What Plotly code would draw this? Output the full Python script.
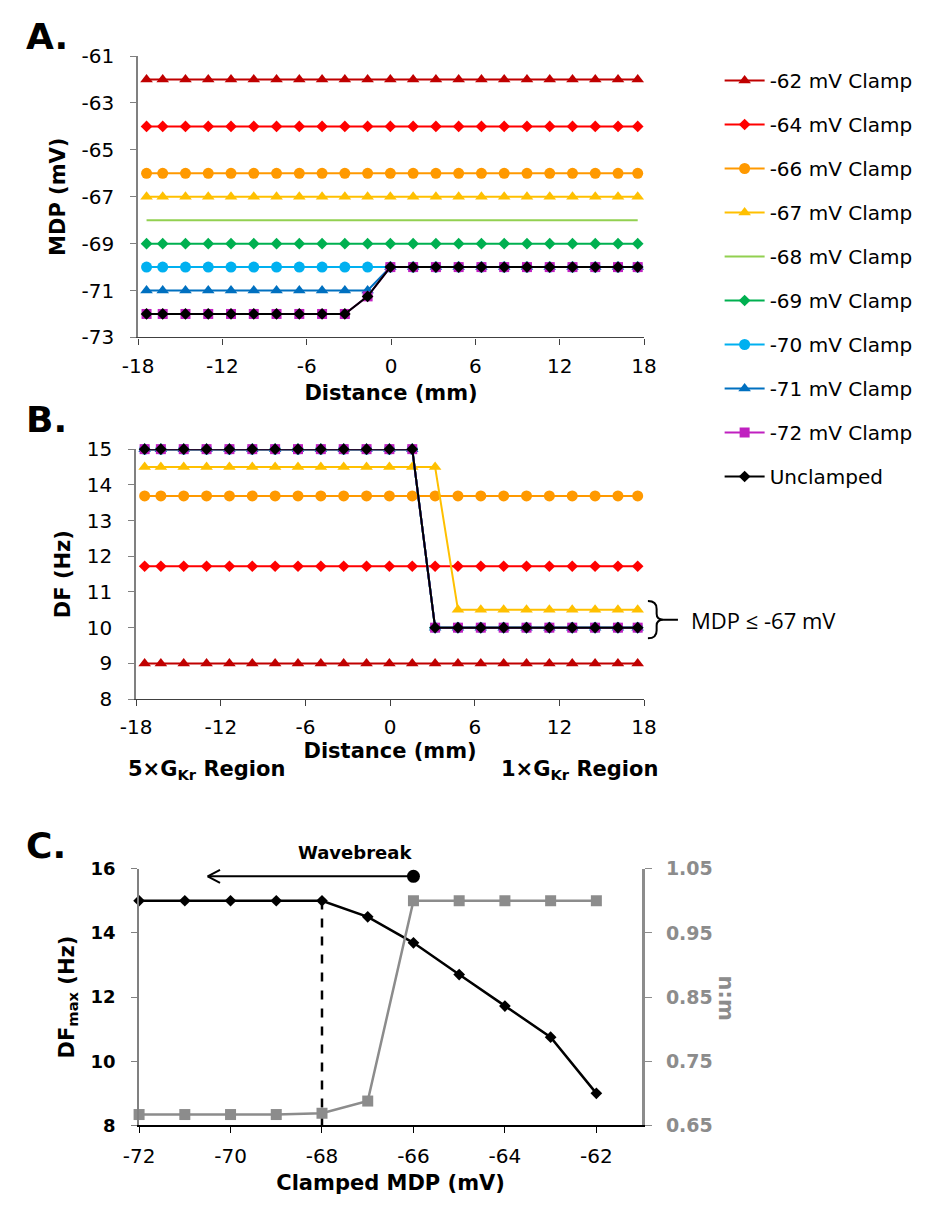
import plotly.graph_objects as go

W, H = 941, 1209

# ---------------- data ----------------
distance_mm = [-17.4, -16.25, -14.63, -13.01, -11.39, -9.77, -8.15, -6.53, -4.91, -3.29, -1.67, -0.05,
               1.57, 3.19, 4.81, 6.43, 8.05, 9.67, 11.29, 12.91, 14.53, 16.15, 17.55]

series_names = ["-62 mV Clamp", "-64 mV Clamp", "-66 mV Clamp", "-67 mV Clamp", "-68 mV Clamp",
                "-69 mV Clamp", "-70 mV Clamp", "-71 mV Clamp", "-72 mV Clamp", "Unclamped"]

# Panel A: MDP (mV) along the cable
mdp_m62 = [-62, -62, -62, -62, -62, -62, -62, -62, -62, -62, -62, -62,
           -62, -62, -62, -62, -62, -62, -62, -62, -62, -62, -62]
mdp_m64 = [-64, -64, -64, -64, -64, -64, -64, -64, -64, -64, -64, -64,
           -64, -64, -64, -64, -64, -64, -64, -64, -64, -64, -64]
mdp_m66 = [-66, -66, -66, -66, -66, -66, -66, -66, -66, -66, -66, -66,
           -66, -66, -66, -66, -66, -66, -66, -66, -66, -66, -66]
mdp_m67 = [-67, -67, -67, -67, -67, -67, -67, -67, -67, -67, -67, -67,
           -67, -67, -67, -67, -67, -67, -67, -67, -67, -67, -67]
mdp_m68 = [-68, -68, -68, -68, -68, -68, -68, -68, -68, -68, -68, -68,
           -68, -68, -68, -68, -68, -68, -68, -68, -68, -68, -68]
mdp_m69 = [-69, -69, -69, -69, -69, -69, -69, -69, -69, -69, -69, -69,
           -69, -69, -69, -69, -69, -69, -69, -69, -69, -69, -69]
mdp_m70 = [-70, -70, -70, -70, -70, -70, -70, -70, -70, -70, -70, -70,
           -70, -70, -70, -70, -70, -70, -70, -70, -70, -70, -70]
mdp_m71 = [-71, -71, -71, -71, -71, -71, -71, -71, -71, -71, -71, -70,
           -70, -70, -70, -70, -70, -70, -70, -70, -70, -70, -70]
mdp_m72 = [-72, -72, -72, -72, -72, -72, -72, -72, -72, -72, -71.25, -70,
           -70, -70, -70, -70, -70, -70, -70, -70, -70, -70, -70]
mdp_unclamped = [-72, -72, -72, -72, -72, -72, -72, -72, -72, -72, -71.25, -70,
                 -70, -70, -70, -70, -70, -70, -70, -70, -70, -70, -70]

# Panel B: DF (Hz) along the cable
df_m62 = [9.0, 9.0, 9.0, 9.0, 9.0, 9.0, 9.0, 9.0, 9.0, 9.0, 9.0, 9.0,
          9.0, 9.0, 9.0, 9.0, 9.0, 9.0, 9.0, 9.0, 9.0, 9.0, 9.0]
df_m64 = [11.72, 11.72, 11.72, 11.72, 11.72, 11.72, 11.72, 11.72, 11.72, 11.72, 11.72, 11.72,
          11.72, 11.72, 11.72, 11.72, 11.72, 11.72, 11.72, 11.72, 11.72, 11.72, 11.72]
df_m66 = [13.69, 13.69, 13.69, 13.69, 13.69, 13.69, 13.69, 13.69, 13.69, 13.69, 13.69, 13.69,
          13.69, 13.69, 13.69, 13.69, 13.69, 13.69, 13.69, 13.69, 13.69, 13.69, 13.69]
df_m67 = [14.5, 14.5, 14.5, 14.5, 14.5, 14.5, 14.5, 14.5, 14.5, 14.5, 14.5, 14.5,
          14.5, 14.5, 10.5, 10.5, 10.5, 10.5, 10.5, 10.5, 10.5, 10.5, 10.5]
df_m68 = [15, 15, 15, 15, 15, 15, 15, 15, 15, 15, 15, 15,
          15, 10, 10, 10, 10, 10, 10, 10, 10, 10, 10]
df_m69 = [15, 15, 15, 15, 15, 15, 15, 15, 15, 15, 15, 15,
          15, 10, 10, 10, 10, 10, 10, 10, 10, 10, 10]
df_m70 = [15, 15, 15, 15, 15, 15, 15, 15, 15, 15, 15, 15,
          15, 10, 10, 10, 10, 10, 10, 10, 10, 10, 10]
df_m71 = [15, 15, 15, 15, 15, 15, 15, 15, 15, 15, 15, 15,
          15, 10, 10, 10, 10, 10, 10, 10, 10, 10, 10]
df_m72 = [15, 15, 15, 15, 15, 15, 15, 15, 15, 15, 15, 15,
          15, 10, 10, 10, 10, 10, 10, 10, 10, 10, 10]
df_unclamped = [15, 15, 15, 15, 15, 15, 15, 15, 15, 15, 15, 15,
                15, 10, 10, 10, 10, 10, 10, 10, 10, 10, 10]

# Panel C
clamped_mdp = [-72, -71, -70, -69, -68, -67, -66, -65, -64, -63, -62]
df_max = [15, 15, 15, 15, 15, 14.5, 13.69, 12.7, 11.72, 10.75, 9.0]
nm_ratio = [0.667, 0.667, 0.667, 0.667, 0.669, 0.688, 1.0, 1.0, 1.0, 1.0, 1.0]
wavebreak_from = -66
wavebreak_to = -70.5
wavebreak_level = 15.76
wavebreak_boundary = -68

# tick labels
dist_ticks = [-18, -12, -6, 0, 6, 12, 18]
dist_ticktext = ["-18", "-12", "-6", "0", "6", "12", "18"]
mdp_ticks = [-73, -71, -69, -67, -65, -63, -61]
mdp_ticktext = ["-73", "-71", "-69", "-67", "-65", "-63", "-61"]
df_ticks = [8, 9, 10, 11, 12, 13, 14, 15]
clamp_ticks = [-72, -70, -68, -66, -64, -62]
clamp_ticktext = ["-72", "-70", "-68", "-66", "-64", "-62"]
dfmax_ticks = [8, 10, 12, 14, 16]
nm_ticks = [0.65, 0.75, 0.85, 0.95, 1.05]
nm_ticktext = ["0.65", "0.75", "0.85", "0.95", "1.05"]

mdp_series = [mdp_m62, mdp_m64, mdp_m66, mdp_m67, mdp_m68, mdp_m69, mdp_m70, mdp_m71, mdp_m72, mdp_unclamped]
df_series = [df_m62, df_m64, df_m66, df_m67, df_m68, df_m69, df_m70, df_m71, df_m72, df_unclamped]

# ---------------- styles ----------------
styles = [
    dict(color="#C00000", symbol="triangle-up", size=11, mode="lines+markers"),
    dict(color="#FF0000", symbol="diamond", size=9, mode="lines+markers"),
    dict(color="#FF9900", symbol="circle", size=11, mode="lines+markers"),
    dict(color="#FFC000", symbol="triangle-up", size=11, mode="lines+markers"),
    dict(color="#92D050", symbol="circle", size=6, mode="lines"),
    dict(color="#00B050", symbol="diamond", size=9, mode="lines+markers"),
    dict(color="#00B0F0", symbol="circle", size=11, mode="lines+markers"),
    dict(color="#0070C0", symbol="triangle-up", size=11, mode="lines+markers"),
    dict(color="#C020C0", symbol="square", size=10, mode="lines+markers"),
    dict(color="#000000", symbol="diamond", size=9, mode="lines+markers"),
]

FONT = "DejaVu Sans"
AX_LINE = "#808080"
X_LINE = "#404040"
NM_GRAY = "#8C8C8C"


def px(xp):
    return xp / W


def py(yp):
    return 1 - yp / H


fig = go.Figure()

for i, (name, st) in enumerate(zip(series_names, styles)):
    common = dict(mode=st["mode"], name=name, legendgroup=f"g{i}", cliponaxis=False,
                  line=dict(color=st["color"], width=2),
                  marker=dict(color=st["color"], symbol=st["symbol"], size=st["size"]))
    fig.add_trace(go.Scatter(x=distance_mm, y=mdp_series[i], xaxis="x", yaxis="y",
                             showlegend=True, **common))
for i, (name, st) in enumerate(zip(series_names, styles)):
    common = dict(mode=st["mode"], name=name, legendgroup=f"g{i}", cliponaxis=False,
                  line=dict(color=st["color"], width=2),
                  marker=dict(color=st["color"], symbol=st["symbol"], size=st["size"]))
    fig.add_trace(go.Scatter(x=distance_mm, y=df_series[i], xaxis="x2", yaxis="y2",
                             showlegend=False, **common))

# Panel C traces
fig.add_trace(go.Scatter(x=clamped_mdp, y=nm_ratio, xaxis="x3", yaxis="y4", mode="lines+markers",
                         name="n:m", showlegend=False, cliponaxis=False,
                         line=dict(color=NM_GRAY, width=2.5),
                         marker=dict(color=NM_GRAY, symbol="square", size=11)))
fig.add_trace(go.Scatter(x=clamped_mdp, y=df_max, xaxis="x3", yaxis="y3", mode="lines+markers",
                         name="DFmax", showlegend=False, cliponaxis=False,
                         line=dict(color="#000000", width=2.5),
                         marker=dict(color="#000000", symbol="diamond", size=9)))
fig.add_trace(go.Scatter(x=[wavebreak_boundary, wavebreak_boundary], y=[8, 15], xaxis="x3", yaxis="y3",
                         mode="lines", showlegend=False, hoverinfo="skip",
                         line=dict(color="#000000", width=2.5, dash="dash")))
fig.add_trace(go.Scatter(x=[wavebreak_from], y=[wavebreak_level], xaxis="x3", yaxis="y3",
                         mode="markers", showlegend=False, cliponaxis=False,
                         marker=dict(color="#000000", size=13, symbol="circle")))

tick_font = dict(family=FONT, size=20, color="#000000")
title_font = dict(family=FONT, size=21, color="#000000")


def base_axis(**kw):
    d = dict(showgrid=False, zeroline=False, showline=True, ticks="outside", ticklen=6,
             tickfont=tick_font)
    d.update(kw)
    return d


fig.update_layout(
    width=W, height=H,
    margin=dict(l=0, r=0, t=0, b=0),
    paper_bgcolor="white", plot_bgcolor="white",
    font=dict(family=FONT, color="#000000"),
    showlegend=True,
    legend=dict(x=px(726), y=py(50), xanchor="left", yanchor="top", itemwidth=40,
                font=dict(family=FONT, size=20, color="#000000"),
                tracegroupgap=15, bgcolor="rgba(0,0,0,0)"),
    xaxis=base_axis(domain=[px(126), px(648)], anchor="y", range=[-18, 18],
                    tickvals=dist_ticks, ticktext=dist_ticktext, linecolor=X_LINE, tickcolor=X_LINE,
                    linewidth=1.3, ticklabelstandoff=4,
                    title=dict(text="<b>Distance (mm)</b>", font=title_font, standoff=8)),
    yaxis=base_axis(domain=[py(332), py(45)], anchor="x", range=[-73, -61],
                    tickvals=mdp_ticks, ticktext=mdp_ticktext,
                    linecolor=AX_LINE, tickcolor=AX_LINE, linewidth=2, ticklabelstandoff=12,
                    title=dict(text="<b>MDP (mV)</b>", font=title_font, standoff=10)),
    xaxis2=base_axis(domain=[px(124), px(648)], anchor="y2", range=[-18, 18],
                     tickvals=dist_ticks, ticktext=dist_ticktext, linecolor=X_LINE, tickcolor=X_LINE,
                     linewidth=1.3, ticklabelstandoff=4,
                     title=dict(text="<b>Distance (mm)</b>", font=title_font, standoff=4)),
    yaxis2=base_axis(domain=[py(701), py(446)], anchor="x2", range=[8, 15], tickvals=df_ticks,
                     linecolor=AX_LINE, tickcolor=AX_LINE, linewidth=2, ticklabelstandoff=12,
                     title=dict(text="<b>DF (Hz)</b>", font=title_font, standoff=10)),
    xaxis3=base_axis(domain=[px(127), px(646)], anchor="y3", range=[-72, -61],
                     tickvals=clamp_ticks, ticktext=clamp_ticktext, linecolor="#000000",
                     tickcolor="#000000", linewidth=1.5, ticklabelstandoff=6,
                     title=dict(text="<b>Clamped MDP (mV)</b>", font=title_font, standoff=8)),
    yaxis3=base_axis(domain=[py(1136), py(874)], anchor="x3", range=[8, 16], tickvals=dfmax_ticks,
                     linecolor=AX_LINE, tickcolor=AX_LINE, linewidth=2, ticklabelstandoff=12,
                     tickfont=dict(family=FONT, size=18, color="#000000", weight="bold"),
                     title=dict(text="<b>DF<sub>max</sub> (Hz)</b>", font=title_font, standoff=10)),
    yaxis4=base_axis(overlaying="y3", side="right", anchor="x3", range=[0.65, 1.05],
                     tickvals=nm_ticks, ticktext=nm_ticktext,
                     linecolor=NM_GRAY, tickcolor=NM_GRAY, linewidth=3, ticklen=7,
                     ticklabelstandoff=10,
                     tickfont=dict(family=FONT, size=19, color=NM_GRAY, weight="bold")),
)

annotations = [
    dict(text="<b>A.</b>", x=px(8), y=py(25), xref="paper", yref="paper", xanchor="left",
         yanchor="middle", showarrow=False, font=dict(family=FONT, size=36, color="#000000")),
    dict(text="<b>B.</b>", x=px(8), y=py(416), xref="paper", yref="paper", xanchor="left",
         yanchor="middle", showarrow=False, font=dict(family=FONT, size=36, color="#000000")),
    dict(text="<b>C.</b>", x=px(8), y=py(850), xref="paper", yref="paper", xanchor="left",
         yanchor="middle", showarrow=False, font=dict(family=FONT, size=36, color="#000000")),
    dict(text="<b>5×G<sub>Kr</sub> Region</b>", x=px(114), y=py(773), xref="paper", yref="paper",
         xanchor="left", yanchor="middle", showarrow=False,
         font=dict(family=FONT, size=21, color="#000000")),
    dict(text="<b>1×G<sub>Kr</sub> Region</b>", x=px(664), y=py(773), xref="paper", yref="paper",
         xanchor="right", yanchor="middle", showarrow=False,
         font=dict(family=FONT, size=21, color="#000000")),
    dict(text="MDP ≤ -67 mV", x=px(694), y=py(620), xref="paper", yref="paper",
         xanchor="left", yanchor="middle", showarrow=False,
         font=dict(family="Open Sans", size=22, color="#000000")),
    dict(text="<b>n:m</b>", x=px(733), y=py(1006), xref="paper", yref="paper",
         xanchor="center", yanchor="middle", showarrow=False, textangle=90,
         font=dict(family=FONT, size=21, color=NM_GRAY)),
    dict(text="<b>Wavebreak</b>", x=px(350), y=py(858), xref="paper", yref="paper",
         xanchor="center", yanchor="middle", showarrow=False,
         font=dict(family=FONT, size=18, color="#000000")),
]
fig.update_layout(annotations=annotations)

# Wavebreak arrow (shaft + open chevron head), in panel C data coordinates
head_dx = 0.27
head_dy = 0.2
for x0, y0, x1, y1 in [
    (wavebreak_from, wavebreak_level, wavebreak_to, wavebreak_level),
    (wavebreak_to, wavebreak_level, wavebreak_to + head_dx, wavebreak_level + head_dy),
    (wavebreak_to, wavebreak_level, wavebreak_to + head_dx, wavebreak_level - head_dy),
]:
    fig.add_shape(type="line", xref="x3", yref="y3", x0=x0, y0=y0, x1=x1, y1=y1,
                  line=dict(color="#000000", width=2))


def brace_path():
    pts = [("M", 652, 601), ("Q", 661, 601, 661, 609), ("L", 661, 614),
           ("Q", 661, 620, 668, 620), ("Q", 661, 620, 661, 626), ("L", 661, 631),
           ("Q", 661, 639, 652, 639), ("M", 668, 620), ("L", 683, 620)]
    out = []
    for p in pts:
        cmd = p[0]
        coords = p[1:]
        seg = []
        for j in range(0, len(coords), 2):
            seg.append(f"{px(coords[j]):.5f},{py(coords[j + 1]):.5f}")
        out.append(cmd + " ".join(seg))
    return " ".join(out)


fig.add_shape(type="path", path=brace_path(), xref="paper", yref="paper",
              line=dict(color="#000000", width=2))

fig.write_html("out.html")
